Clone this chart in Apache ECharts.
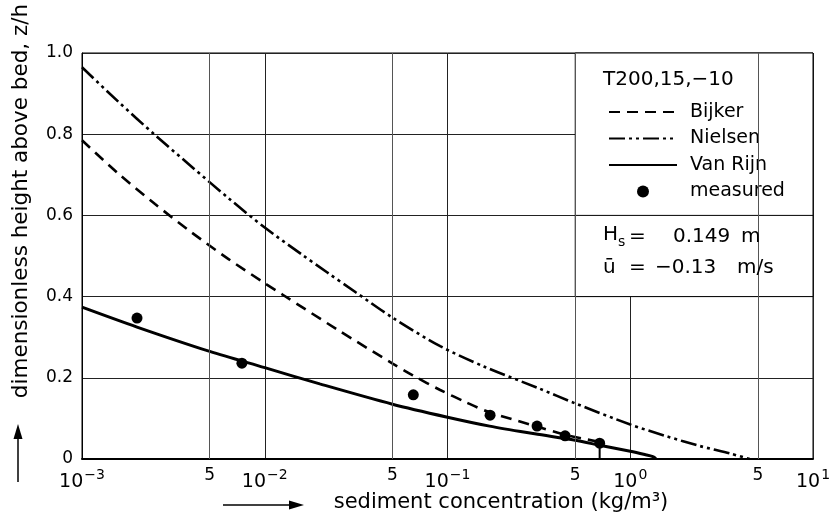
<!DOCTYPE html>
<html><head><meta charset="utf-8">
<script src="https://cdn.jsdelivr.net/npm/echarts@6/dist/echarts.min.js"></script>
<style>html,body{margin:0;padding:0;background:#fff}#c{width:837px;height:514px}</style>
</head><body><div id="c"></div>
<script>
const FONT = '"DejaVu Sans", "Liberation Sans", sans-serif';

// axis ticks
const xMin = 0.001, xMax = 10;
const xMinorTicks = [0.005, 0.05, 0.5, 5];
const minorTickLabel = '5';
const yMin = 0, yMax = 1, yStep = 0.2;

// Bijker (dashed)
const bijkerX = [0.001, 0.00158, 0.00251, 0.00398, 0.00631, 0.01, 0.0126, 0.0251, 0.0501, 0.0646, 0.0912, 0.126, 0.170, 0.309, 0.437, 0.68];
const bijkerZ = [0.785, 0.703, 0.628, 0.558, 0.493, 0.433, 0.404, 0.318, 0.235, 0.206, 0.170, 0.140, 0.115, 0.080, 0.060, 0.042];

// Nielsen (dash-dot-dot)
const nielsenX = [0.001, 0.00158, 0.00251, 0.00398, 0.00631, 0.01, 0.0158, 0.0219, 0.0316, 0.0501, 0.0912, 0.158, 0.316, 0.5, 1.0, 1.58, 2.4, 3.55, 4.5];
const nielsenZ = [0.965, 0.880, 0.798, 0.720, 0.643, 0.570, 0.505, 0.460, 0.410, 0.348, 0.278, 0.228, 0.174, 0.137, 0.085, 0.056, 0.032, 0.013, 0.0];

// Van Rijn (solid)
const vanRijnX = [0.001, 0.002, 0.005, 0.01, 0.02, 0.05, 0.1, 0.17, 0.3, 0.5, 0.68, 1.0, 1.2, 1.33, 1.37, 1.38];
const vanRijnZ = [0.374, 0.325, 0.265, 0.225, 0.185, 0.135, 0.103, 0.081, 0.062, 0.046, 0.034, 0.019, 0.011, 0.006, 0.002, 0.0];

// measured points
const measuredX = [0.002, 0.0075, 0.065, 0.171, 0.309, 0.44, 0.68];
const measuredZ = [0.347, 0.236, 0.158, 0.108, 0.081, 0.057, 0.039];

// reference level marker
const refX = [0.68, 0.68];
const refZ = [0.039, 0.0];

const seriesNames = ['Bijker', 'Nielsen', 'Van Rijn', 'measured'];
const caseLabel = 'T200,15,\u221210';
const hsValue = '0.149', hsUnit = 'm';
const uValue = '\u22120.13', uUnit = 'm/s';
const yTitle = 'dimensionless height above bed, z/h';
const xTitle = 'sediment concentration (kg/m\u00b3)';

const pairs = (xs, zs) => xs.map((x, i) => [x, zs[i]]);
const minus = s => String(s).replace('-', '\u2212');

const chart = echarts.init(document.getElementById('c'), null, {renderer: 'canvas'});
const lineItem = name => ({name, itemStyle: {opacity: 0}});
const option = {
  animation: false,
  backgroundColor: '#fff',
  grid: {left: 82, right: 24, top: 53, bottom: 55, show: true, borderColor: '#000', borderWidth: 1, backgroundColor: 'transparent'},
  xAxis: {
    type: 'log', logBase: 10, min: xMin, max: xMax,
    axisLine: {show: true, lineStyle: {color: '#000', width: 2}},
    axisTick: {show: false},
    splitLine: {show: true, lineStyle: {color: '#222', width: 1}},
    minorTick: {show: false}, minorSplitLine: {show: false},
    axisLabel: {
      margin: 9, color: '#000',
      formatter: v => '{b|10}{s|' + minus(Math.round(Math.log10(v))) + '}',
      rich: {
        b: {fontFamily: FONT, fontSize: 19, color: '#000', verticalAlign: 'bottom'},
        s: {fontFamily: FONT, fontSize: 14, color: '#000', verticalAlign: 'bottom', padding: [0, 0, 10, 1]}
      }
    }
  },
  yAxis: {
    type: 'value', min: yMin, max: yMax, interval: yStep,
    axisLine: {show: true, lineStyle: {color: '#000', width: 1}},
    axisTick: {show: false},
    splitLine: {show: true, lineStyle: {color: '#222', width: 1}},
    axisLabel: {margin: 9, color: '#000', fontFamily: FONT, fontSize: 17,
      formatter: v => v === 0 ? '0' : v.toFixed(1)}
  },
  legend: {
    orient: 'vertical', left: 603, top: 97,
    itemWidth: 68, itemHeight: 12, itemGap: 6.5,
    data: [lineItem('Bijker'), lineItem('Nielsen'), lineItem('Van Rijn'), {name: 'measured'}],
    selectedMode: false,
    textStyle: {fontFamily: FONT, fontSize: 19, color: '#000', lineHeight: 20, padding: [0, 0, 0, 8]}
  },
  series: [
    {name: 'grid5', type: 'line', data: [], z: 1, silent: true,
      markLine: {silent: true, symbol: ['none', 'none'], animation: false, precision: 6,
        lineStyle: {color: '#555', width: 1, type: 'solid'},
        label: {show: true, position: 'start', distance: 8, formatter: minorTickLabel,
          fontFamily: FONT, fontSize: 17, color: '#000'},
        emphasis: {disabled: true},
        data: xMinorTicks.map(v => ({xAxis: v}))}},
    {name: 'Bijker', type: 'line', data: pairs(bijkerX, bijkerZ), symbol: 'none', smooth: 0.3,
      lineStyle: {color: '#000', width: 2.6, type: [11, 7]}, itemStyle: {color: '#000'}},
    {name: 'Nielsen', type: 'line', data: pairs(nielsenX, nielsenZ), symbol: 'none', smooth: 0.3,
      lineStyle: {color: '#000', width: 2.6, type: [16, 4, 3, 4, 3, 4]}, itemStyle: {color: '#000'}},
    {name: 'Van Rijn', type: 'line', data: pairs(vanRijnX, vanRijnZ), symbol: 'none', smooth: 0.3,
      lineStyle: {color: '#000', width: 3, type: 'solid'}, itemStyle: {color: '#000'}},
    {name: 'measured', type: 'scatter', data: pairs(measuredX, measuredZ), symbol: 'circle', symbolSize: 11,
      itemStyle: {color: '#000', opacity: 1}},
    {name: 'reference level', type: 'line', data: pairs(refX, refZ), symbol: 'none',
      lineStyle: {color: '#000', width: 2}}
  ]
};
chart.setOption(option);

const toPx = (x, y) => chart.convertToPixel({gridIndex: 0}, [x, y]);
const boxTL = toPx(0.5, 1.0), boxMid = toPx(xMax, 0.6), boxBR = toPx(xMax, 0.4);
const txt = (x, y, text, size) => ({type: 'text', x, y, z: 10, silent: true,
  style: {text, fontFamily: FONT, fontSize: size, fill: '#000', align: 'left', verticalAlign: 'middle'}});
const tx0 = 603;
chart.setOption({graphic: [
  {type: 'rect', z: 3, silent: true, shape: {x: boxTL[0], y: boxTL[1], width: boxBR[0] - boxTL[0], height: boxBR[1] - boxTL[1]},
    style: {fill: '#fff', stroke: '#000', lineWidth: 1}},
  {type: 'line', z: 3, silent: true, shape: {x1: boxTL[0], y1: boxMid[1], x2: boxMid[0], y2: boxMid[1]}, style: {stroke: '#000', lineWidth: 1}},
  txt(tx0, 80, caseLabel, 20),
  {type: 'text', x: tx0, y: 237, z: 10, silent: true, style: {text: '{h|H}{s|s}', verticalAlign: 'middle',
    rich: {h: {fontFamily: FONT, fontSize: 20, fill: '#000', verticalAlign: 'bottom', padding: [0, 0, 5, 0]},
           s: {fontFamily: FONT, fontSize: 14, fill: '#000', verticalAlign: 'bottom'}}}},
  txt(629, 237, '=', 20),
  txt(673, 237, hsValue, 20),
  txt(741, 237, hsUnit, 20),
  txt(tx0, 268, '\u016b', 20),
  txt(629, 268, '=', 20),
  txt(655, 268, uValue, 20),
  txt(737, 268, uUnit, 20),
  {type: 'text', x: 21, y: 201, rotation: Math.PI / 2, z: 10, silent: true,
    style: {text: yTitle, fontFamily: FONT, fontSize: 21.5, fill: '#000', align: 'center', verticalAlign: 'middle'}},
  {type: 'text', x: 501, y: 503, z: 10, silent: true,
    style: {text: xTitle, fontFamily: FONT, fontSize: 21, fill: '#000', align: 'center', verticalAlign: 'middle'}},
  {type: 'line', silent: true, shape: {x1: 18, y1: 482, x2: 18, y2: 436}, style: {stroke: '#000', lineWidth: 1.5}},
  {type: 'polygon', silent: true, shape: {points: [[18, 424], [13.5, 439], [22.5, 439]]}, style: {fill: '#000'}},
  {type: 'line', silent: true, shape: {x1: 223, y1: 505, x2: 292, y2: 505}, style: {stroke: '#000', lineWidth: 1.5}},
  {type: 'polygon', silent: true, shape: {points: [[304, 505], [289, 500.5], [289, 509.5]]}, style: {fill: '#000'}}
]});
</script></body></html>
